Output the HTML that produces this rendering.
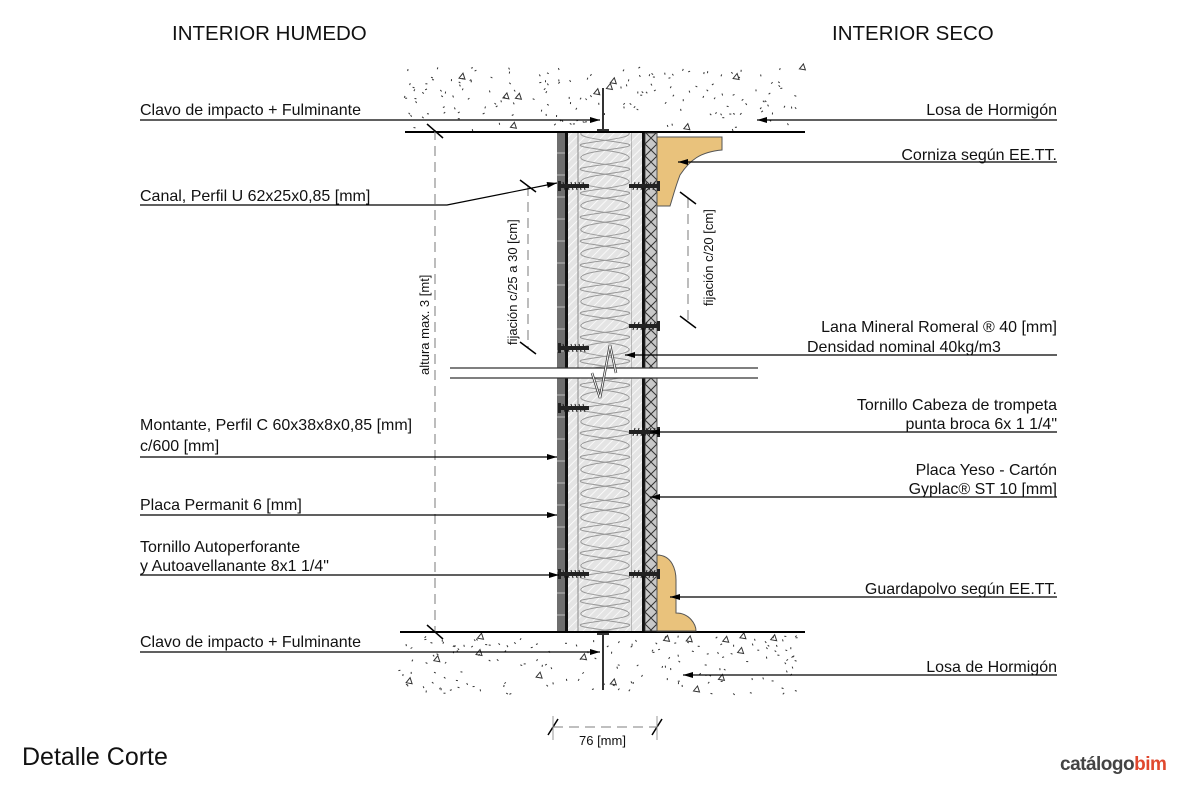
<!DOCTYPE html>
<html><head><meta charset="utf-8"><style>
html,body{margin:0;padding:0;background:#fff;}
svg{display:block;font-family:"Liberation Sans",Arial,sans-serif;}
</style></head><body>
<svg id="s" width="1181" height="787" viewBox="0 0 1181 787" xmlns="http://www.w3.org/2000/svg">
<defs>
<pattern id="hatch" width="6" height="6" patternUnits="userSpaceOnUse" patternTransform="rotate(45)">
<rect width="6" height="6" fill="#e4e4e4"/><line x1="0" y1="0" x2="0" y2="6" stroke="#fff" stroke-width="1.5"/></pattern>
<pattern id="wave" x="578" y="132" width="54" height="24" patternUnits="userSpaceOnUse">
<path d="M4,0 C-4,6 30,8 50,12 C62,16 10,18 4,24" fill="none" stroke="#999" stroke-width="1"/>
<path d="M50,0 C58,6 24,8 4,12 C-8,16 44,18 50,24" fill="none" stroke="#999" stroke-width="1"/>
</pattern>
<pattern id="xx" x="645" y="132" width="12" height="24" patternUnits="userSpaceOnUse">
<rect width="12" height="24" fill="#c8c8c8"/><path d="M0,0 L12,12 M12,0 L0,12 M0,12 L12,24 M12,12 L0,24" stroke="#333" stroke-width="1"/></pattern>
<pattern id="blk" x="557" y="132" width="8" height="22" patternUnits="userSpaceOnUse">
<rect width="8" height="22" fill="#6e6e6e"/><line x1="0" y1="21" x2="8" y2="21" stroke="#bbb" stroke-width="1"/></pattern>
<marker id="ar" viewBox="0 0 10 6" refX="10" refY="3" markerWidth="14" markerHeight="6" markerUnits="userSpaceOnUse" orient="auto"><path d="M0,0 L10,3 L0,6z" fill="#000"/></marker>
<g id="screw"><rect x="0" y="-2" width="28" height="4" fill="#222"/><path d="M0,-5 L0,5 L-3,5 L-3,-5z" fill="#222"/><path d="M2,-4 L4,4 M6,-4 L8,4 M10,-4 L12,4 M14,-4 L16,4 M18,-4 L20,4 M22,-4 L24,4" stroke="#222" stroke-width="1"/></g>
</defs>
<g font-size="20.5" fill="#111"><text x="172" y="40">INTERIOR HUMEDO</text><text x="832" y="40">INTERIOR SECO</text></g>
<g id="spk" fill="none" stroke="#333" stroke-width="1"></g>
<!-- slabs -->
<line x1="405" y1="132" x2="805" y2="132" stroke="#000" stroke-width="2"/>
<line x1="400" y1="632" x2="805" y2="632" stroke="#000" stroke-width="2"/>
<!-- wall -->
<rect x="557" y="133" width="8" height="498" fill="url(#blk)"/>
<rect x="565" y="133" width="3" height="498" fill="#111"/>
<rect x="568" y="133" width="10" height="498" fill="url(#hatch)"/>
<rect x="578" y="133" width="54" height="498" fill="url(#hatch)"/>
<rect x="578" y="133" width="54" height="498" fill="url(#wave)"/>
<line x1="578" y1="133" x2="578" y2="631" stroke="#888"/>
<line x1="632" y1="133" x2="632" y2="631" stroke="#888"/>
<rect x="632" y="133" width="10" height="498" fill="url(#hatch)"/>
<rect x="642" y="133" width="3" height="498" fill="#111"/>
<rect x="645" y="133" width="12" height="498" fill="url(#xx)" stroke="#333" stroke-width="0.8"/>
<!-- wood -->
<path d="M657,137 L722,137 L722,150 C700,152 690,160 680,175 C675,188 672,200 670,206 L657,206 Z" fill="#e9c27c" stroke="#555" stroke-width="1"/>
<path d="M657,555 C672,555 676,570 676,580 L676,613 C690,613 696,625 696,631 L657,631 Z" fill="#e9c27c" stroke="#555" stroke-width="1"/>
<!-- break -->
<rect x="450" y="368" width="308" height="10" fill="#fff"/>
<line x1="450" y1="368" x2="758" y2="368" stroke="#333" stroke-width="1.3"/>
<line x1="450" y1="378" x2="758" y2="378" stroke="#333" stroke-width="1.3"/>
<path d="M592,373 L600,398 L610,345 L616,373" fill="none" stroke="#333" stroke-width="2.5"/>
<path d="M592,373 L600,398 L610,345 L616,373" fill="none" stroke="#fff" stroke-width="1"/>
<!-- screws -->
<use href="#screw" x="561" y="186"/><use href="#screw" x="561" y="348"/><use href="#screw" x="561" y="408"/><use href="#screw" x="561" y="574"/>
<use href="#screw" transform="translate(657,186) scale(-1,1)"/><use href="#screw" transform="translate(657,326) scale(-1,1)"/><use href="#screw" transform="translate(657,432) scale(-1,1)"/><use href="#screw" transform="translate(657,574) scale(-1,1)"/>
<!-- nails -->
<g stroke="#333" stroke-width="2" fill="none"><line x1="603" y1="88" x2="603" y2="130"/><line x1="597" y1="130" x2="609" y2="130"/>
<line x1="603" y1="634" x2="603" y2="690"/><line x1="597" y1="634" x2="609" y2="634"/></g>
<!-- dims -->
<g stroke="#999" stroke-width="1.3" stroke-dasharray="10,6" fill="none">
<line x1="435" y1="130" x2="435" y2="632"/><line x1="528" y1="186" x2="528" y2="348"/><line x1="688" y1="198" x2="688" y2="322"/><line x1="553" y1="727" x2="657" y2="727"/></g>
<g stroke="#000" stroke-width="1.5"><line x1="427" y1="124" x2="443" y2="138"/><line x1="427" y1="625" x2="443" y2="639"/>
<line x1="520" y1="180" x2="536" y2="192"/><line x1="520" y1="342" x2="536" y2="354"/><line x1="680" y1="192" x2="696" y2="204"/><line x1="680" y1="316" x2="696" y2="328"/>
<line x1="548" y1="735" x2="558" y2="719"/><line x1="652" y1="735" x2="662" y2="719"/></g>
<g stroke="#999"><line x1="553" y1="716" x2="553" y2="740"/><line x1="657" y1="716" x2="657" y2="740"/></g>
<g font-size="13" fill="#111">
<text transform="translate(429,375) rotate(-90)">altura max. 3 [mt]</text>
<text transform="translate(517,345) rotate(-90)">fijación c/25 a 30 [cm]</text>
<text transform="translate(713,306) rotate(-90)">fijación c/20 [cm]</text>
<text x="579" y="745">76 [mm]</text></g>
<!-- leaders -->
<g stroke="#000" stroke-width="1.2" fill="none" marker-end="url(#ar)">
<path d="M140,120 L600,120"/><path d="M140,205 L447,205 L557,183"/><path d="M140,457 L557,457"/><path d="M140,515 L557,515"/><path d="M140,575 L559,575"/><path d="M140,652 L600,652"/>
<path d="M1057,120 L757,120"/><path d="M1057,162 L678,162"/><path d="M1057,355 L625,355"/><path d="M1057,432 L650,432"/><path d="M1057,497 L650,497"/><path d="M1057,597 L670,597"/><path d="M1057,675 L683,675"/>
</g>
<g font-size="16" fill="#111">
<text x="140" y="115">Clavo de impacto + Fulminante</text>
<text x="140" y="201">Canal, Perfil U 62x25x0,85 [mm]</text>
<text x="140" y="430">Montante, Perfil C 60x38x8x0,85 [mm]</text><text x="140" y="451">c/600 [mm]</text>
<text x="140" y="510">Placa Permanit 6 [mm]</text>
<text x="140" y="552">Tornillo Autoperforante</text><text x="140" y="571">y Autoavellanante 8x1 1/4"</text>
<text x="140" y="647">Clavo de impacto + Fulminante</text>
<g text-anchor="end">
<text x="1057" y="115">Losa de Hormigón</text>
<text x="1057" y="160">Corniza según EE.TT.</text>
<text x="1057" y="332">Lana Mineral Romeral  ® 40 [mm]</text>
<text x="1057" y="410">Tornillo  Cabeza de trompeta</text><text x="1057" y="429">punta broca 6x 1 1/4"</text>
<text x="1057" y="475">Placa Yeso - Cartón</text><text x="1057" y="494">Gyplac® ST 10 [mm]</text>
<text x="1057" y="594">Guardapolvo según EE.TT.</text>
<text x="1057" y="672">Losa de Hormigón</text></g>
<text x="807" y="352" text-anchor="start">Densidad nominal 40kg/m3</text>
</g>
<text x="22" y="765" font-size="25" fill="#111">Detalle Corte</text>
<text x="1060" y="770" font-size="19" font-weight="bold" fill="#444" letter-spacing="-0.5">catálogo<tspan fill="#e0482e">bim</tspan></text>
</svg>
<script>
(function(){var g=document.getElementById('spk'),s=7,h='';function r(){s=(s*9301+49297)%233280;return s/233280;}
function area(x0,x1,y0,y1,n){for(var i=0;i<n;i++){var x=x0+r()*(x1-x0),y=y0+r()*(y1-y0);
if(x>555&&x<660&&y>125&&y<640)continue;
if(r()<0.07){h+='<path d="M'+x.toFixed(1)+','+y.toFixed(1)+' l4,-5 l2,6z"/>';}else{var a=r()*6;h+='<line x1="'+x.toFixed(1)+'" y1="'+y.toFixed(1)+'" x2="'+(x+2*Math.cos(a)).toFixed(1)+'" y2="'+(y+2*Math.sin(a)).toFixed(1)+'"/>';}}}
area(405,800,68,130,180);area(400,800,636,695,180);g.innerHTML=h;})();
</script>
</body></html>
